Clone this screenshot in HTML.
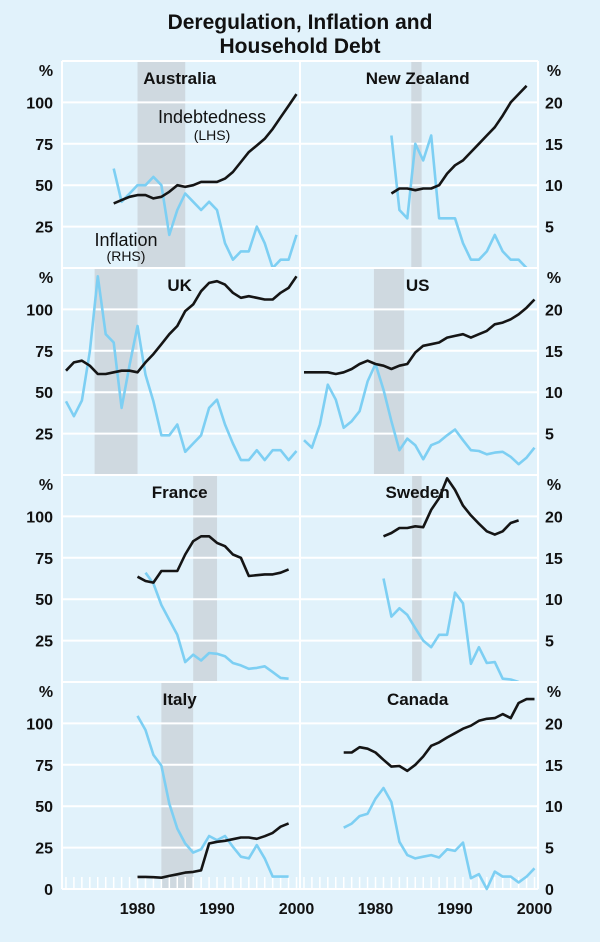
<!DOCTYPE html>
<html><head><meta charset="utf-8">
<style>
html,body{margin:0;padding:0;background:#e1f2fb;}
svg{display:block;font-family:"Liberation Sans",Arial,sans-serif;}
</style></head>
<body>
<svg id="chart" width="600" height="942" viewBox="0 0 600 942" xmlns="http://www.w3.org/2000/svg">
<rect x="0" y="0" width="600" height="942" fill="#e1f2fb"/>
<text x="300" y="29" text-anchor="middle" font-size="21" font-weight="bold" fill="#111">Deregulation, Inflation and</text>
<text x="300" y="53" text-anchor="middle" font-size="21" font-weight="bold" fill="#111">Household Debt</text>
<g id="panels"></g>
</svg>
<script>
// Data: debt in % (LHS, 0-125), inflation in % (RHS, 0-25)
const countries = ["Australia","New Zealand","UK","US","France","Sweden","Italy","Canada"];
const debtStart = [1977,1982,1971,1971,1980,1981,1980,1976];
const inflStart = [1977,1982,1971,1971,1981,1981,1980,1976];
const debtAU = [39,41,43,44,44,42,43,46,50,49,50,52,52,52,54,58,64,70,74,78,84,91,98,105];
const inflAU = [12,8,9,10,10,11,10,4,7,9,8,7,8,7,3,1,2,2,5,3,0,1,1,4];
const debtNZ = [45,48,48,47,48,48,50,57,62,65,70,75,80,85,92,100,105,110];
const inflNZ = [16,7,6,15,13,16,6,6,6,3,1,1,2,4,2,1,1,0];
const debtUK = [63,68,69,66,61,61,62,63,63,62,68,73,79,85,90,99,103,111,116,117,115,110,107,108,107,106,106,110,113,120];
const inflUK = [8.9,7.1,9.0,14.9,24.0,17.0,16.0,8.1,13.3,18.0,12.1,8.9,4.8,4.8,6.1,2.8,3.8,4.8,8.1,9.1,6.1,3.8,1.8,1.8,3.0,1.8,3.0,3.0,1.8,2.9];
const debtUS = [62,62,62,62,61,62,64,67,69,67,66,64,66,67,74,78,79,80,83,84,85,83,85,87,91,92,94,97,101,106];
const inflUS = [4.2,3.3,6.1,10.9,9.1,5.7,6.5,7.7,11.3,13.4,10.3,6.5,3.0,4.4,3.6,1.9,3.6,4.0,4.8,5.5,4.2,3.0,2.9,2.5,2.7,2.8,2.2,1.3,2.1,3.3];
const debtFR = [63.6,61,60,67,67,67,77,85,88,88,84,82,77,75,64,64.5,65,65,66,68];
const inflFR = [13.2,11.9,9.3,7.5,5.7,2.4,3.3,2.6,3.5,3.4,3.1,2.3,2.0,1.6,1.7,1.9,1.2,0.5,0.4];
const debtSE = [88,90,93,93,94,93.5,104,111,123,116,106.5,100.6,95.6,91,89,91,96,97.6];
const inflSE = [12.5,7.9,8.9,8.1,6.5,5.0,4.2,5.7,5.7,10.8,9.5,2.2,4.2,2.3,2.4,0.4,0.3,0];
const debtIT = [7.3,7.3,7.1,6.8,7.9,8.9,9.9,10.3,11.3,27.5,28.5,29.1,30.1,31.1,31.1,30.3,31.9,33.9,37.6,39.6];
const inflIT = [20.9,19.2,16.2,14.9,10.3,7.3,5.5,4.4,4.8,6.4,5.9,6.4,5.1,3.9,3.7,5.3,3.7,1.5,1.5,1.5];
const debtCA = [82.4,82.4,85.6,84.7,82.4,78,73.9,74.3,71.3,75,80,86.5,88.5,91.5,94.1,96.8,98.6,101.6,102.8,103.2,105.6,103.2,112.3,114.7,114.7];
const inflCA = [7.4,7.9,8.8,9.1,10.9,12.2,10.5,5.7,4.1,3.7,3.9,4.1,3.8,4.8,4.6,5.6,1.3,1.8,0,2.1,1.5,1.5,0.8,1.5,2.5];
const shadeFrom = [1980,1984.5,1974.6,1979.8,1987,1984.6,1983,null];
const shadeTo = [1986,1985.8,1980,1983.6,1990,1985.8,1987,null];
const lhsTicks = [0,25,50,75,100];
const rhsTicks = [0,5,10,15,20];
const yearTicks = [1980,1990,2000];

const debtAll = [debtAU,debtNZ,debtUK,debtUS,debtFR,debtSE,debtIT,debtCA];
const inflAll = [inflAU,inflNZ,inflUK,inflUS,inflFR,inflSE,inflIT,inflCA];

const NS = "http://www.w3.org/2000/svg";
const root = document.getElementById("panels");
const panelW = 238, panelH = 207, rowTop = 61, rowStep = 207;
const xLeft = [62, 300];
function xScale(col, year){ return xLeft[col] + (year - 1970.5) * 7.95; }
function yL(row, v){ return rowTop + row*rowStep + panelH - v * panelH / 125; }
function yR(row, v){ return yL(row, v * 5); }
function mk(tag, attrs, parent){
  const e = document.createElementNS(NS, tag);
  for (const k in attrs) e.setAttribute(k, attrs[k]);
  (parent || root).appendChild(e);
  return e;
}

for (let i = 0; i < 8; i++) {
  const col = i % 2, row = Math.floor(i / 2);
  const x0 = xLeft[col], top = rowTop + row*rowStep;
  const g = mk("g", {});
  
  
  if (shadeFrom[i] !== null) {
    const r = mk("rect", {x: xScale(col, shadeFrom[i]), y: top, width: xScale(col, shadeTo[i]) - xScale(col, shadeFrom[i]), height: panelH, fill: "#cfd9e0"}, g);
    
    
  }
  lhsTicks.forEach(t => {
    const y = yL(row, t);
    const l = mk("line", {x1: x0, x2: x0 + panelW, y1: y, y2: y, stroke: "#fff", "stroke-width": 2}, g);
    
    
  });
  const topL = mk("line", {x1: x0, x2: x0 + panelW, y1: top, y2: top, stroke: "#fff", "stroke-width": 2}, g);
  
  
  const fr = mk("line", {x1: x0, x2: x0, y1: top, y2: top + panelH, stroke: "#fff", "stroke-width": 2}, g);
  
  
  if (col === 1) {
    const fr2 = mk("line", {x1: x0 + panelW, x2: x0 + panelW, y1: top, y2: top + panelH, stroke: "#fff", "stroke-width": 2}, g);
    
    
  }
  if (row === 3) {
    for (let yr = 1971; yr <= 2000; yr++) {
      const xx = xScale(col, yr);
      const tk = mk("line", {x1: xx, x2: xx, y1: top + panelH, y2: top + panelH - 12, stroke: "#fff", "stroke-width": 1.5}, g);
      
      
    }
    yearTicks.forEach(yr => {
      const tx = mk("text", {x: xScale(col, yr), y: 914, "text-anchor": "middle", "font-size": 16, "font-weight": "bold", fill: "#111"}, g);
      tx.textContent = yr;
      
      
    });
  }
  const ttl = mk("text", {x: xScale(col, 1985.3), y: top + 23, "text-anchor": "middle", "font-size": 17, "font-weight": "bold", fill: "#111"}, g);
  ttl.textContent = countries[i];
  
  

  const d = debtAll[i], f = inflAll[i];
  const pf = f.map((v, k) => xScale(col, inflStart[i] + k).toFixed(1) + "," + yR(row, v).toFixed(1)).join(" ");
  const pl = mk("polyline", {points: pf, fill: "none", stroke: "#7dcff3", "stroke-width": 2.6, "stroke-linejoin": "round"}, g);
  
  
  const pd = d.map((v, k) => xScale(col, debtStart[i] + k).toFixed(1) + "," + yL(row, v).toFixed(1)).join(" ");
  const dl = mk("polyline", {points: pd, fill: "none", stroke: "#151515", "stroke-width": 2.6, "stroke-linejoin": "round"}, g);
  
  

  if (col === 0) {
    const pc = mk("text", {x: 46, y: top + 15, "text-anchor": "middle", "font-size": 16, "font-weight": "bold", fill: "#111"});
    pc.textContent = "%";
    
    
    lhsTicks.forEach(t => {
      if (t === 0 && row < 3) return;
      const tx = mk("text", {x: 53, y: yL(row, t) + 6, "text-anchor": "end", "font-size": 16, "font-weight": "bold", fill: "#111"});
      tx.textContent = t;
      
      
    });
  } else {
    const pc = mk("text", {x: 554, y: top + 15, "text-anchor": "middle", "font-size": 16, "font-weight": "bold", fill: "#111"});
    pc.textContent = "%";
    
    
    rhsTicks.forEach(t => {
      if (t === 0 && row < 3) return;
      const tx = mk("text", {x: 545, y: yR(row, t) + 6, "text-anchor": "start", "font-size": 16, "font-weight": "bold", fill: "#111"});
      tx.textContent = t;
      
      
    });
  }
}

const a1 = mk("text", {x: 212, y: 123, "text-anchor": "middle", "font-size": 18, fill: "#111"});
a1.textContent = "Indebtedness";


const a2 = mk("text", {x: 212, y: 140, "text-anchor": "middle", "font-size": 14, fill: "#111"});
a2.textContent = "(LHS)";


const a3 = mk("text", {x: 126, y: 246, "text-anchor": "middle", "font-size": 18, fill: "#111"});
a3.textContent = "Inflation";


const a4 = mk("text", {x: 126, y: 261, "text-anchor": "middle", "font-size": 14, fill: "#111"});
a4.textContent = "(RHS)";


</script>
</body></html>
